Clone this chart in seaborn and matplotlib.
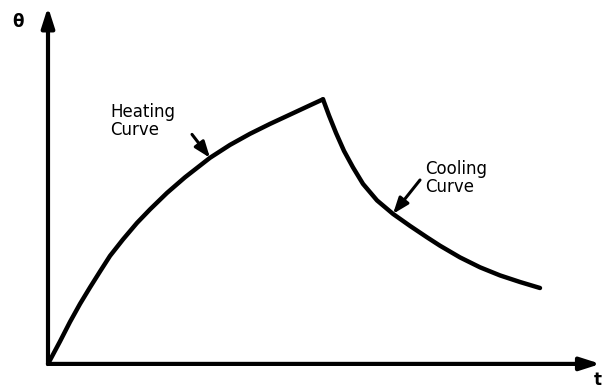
import matplotlib
matplotlib.use("Agg")
import matplotlib.pyplot as plt
import seaborn as sns
import pandas as pd

# Temperature rise while heating, then fall after the supply is removed
heat_t = [0.0, 0.24, 0.44, 0.64, 0.84, 1.04, 1.24, 1.5, 1.78, 2.04, 2.38,
          2.74, 3.24, 3.64, 4.04, 4.44, 4.84, 5.24, 5.5]
heat_theta = [0.0, 0.75, 1.4, 2.0, 2.55, 3.08, 3.6, 4.15, 4.7, 5.15, 5.7,
              6.22, 6.87, 7.3, 7.67, 8.0, 8.31, 8.62, 8.82]
cool_t = [5.5, 5.62, 5.76, 5.92, 6.1, 6.3, 6.58, 6.9, 7.24, 7.58, 7.84,
          8.24, 8.64, 9.04, 9.44, 9.84]
cool_theta = [8.82, 8.28, 7.7, 7.1, 6.55, 6.0, 5.45, 5.0, 4.6, 4.22, 3.94,
              3.55, 3.22, 2.95, 2.73, 2.53]

labels = ["Heating\nCurve", "Cooling\nCurve"]
axis_labels = ["θ", "t"]

heat = pd.DataFrame({"t": heat_t, "theta": heat_theta})
cool = pd.DataFrame({"t": cool_t, "theta": cool_theta})

sns.set_theme(style="white")
plt.rcParams["font.family"] = ["DejaVu Sans"]

fig = plt.figure(figsize=(6.08, 3.90), dpi=100)
ax = fig.add_axes([0, 0, 1, 1])

for df in (heat, cool):
    sns.lineplot(data=df, x="t", y="theta", ax=ax, color="black", lw=3.2,
                 sort=False, estimator=None, solid_capstyle="round",
                 solid_joinstyle="round", legend=False)

ax.set_xlim(-0.96, 11.2)
ax.set_ylim(-0.87, 12.13)
ax.set_axis_off()

# Axes drawn as arrows from the origin
axis_kw = dict(arrowstyle="-|>,head_length=1.0,head_width=0.32", lw=3.0,
               color="black", shrinkA=0, shrinkB=0)
ax.annotate("", xy=(11.05, 0), xytext=(0, 0), arrowprops=axis_kw)
ax.annotate("", xy=(0, 11.9), xytext=(0, 0), arrowprops=axis_kw)

ax.text(-0.6, 11.4, axis_labels[0], fontsize=12, fontweight="bold",
        color="black", ha="center", va="center")
ax.text(11.0, -0.55, axis_labels[1], fontsize=12, fontweight="bold",
        color="black", ha="center", va="center")

# Pointer arrows with labels
ptr_kw = dict(arrowstyle="-|>,head_length=0.8,head_width=0.3", lw=2.2,
              color="black", shrinkA=0, shrinkB=0)
ax.annotate("", xy=(heat_t[12], heat_theta[12]), xytext=(2.88, 7.65),
            arrowprops=ptr_kw)
ax.annotate("", xy=(cool_t[7], cool_theta[7]), xytext=(7.44, 6.13),
            arrowprops=ptr_kw)

ax.text(1.24, 8.1, labels[0], fontsize=12, color="black", ha="left",
        va="center", linespacing=1.05)
ax.text(7.54, 6.2, labels[1], fontsize=12, color="black", ha="left",
        va="center", linespacing=1.05)

fig.savefig("out.png", dpi=100)
